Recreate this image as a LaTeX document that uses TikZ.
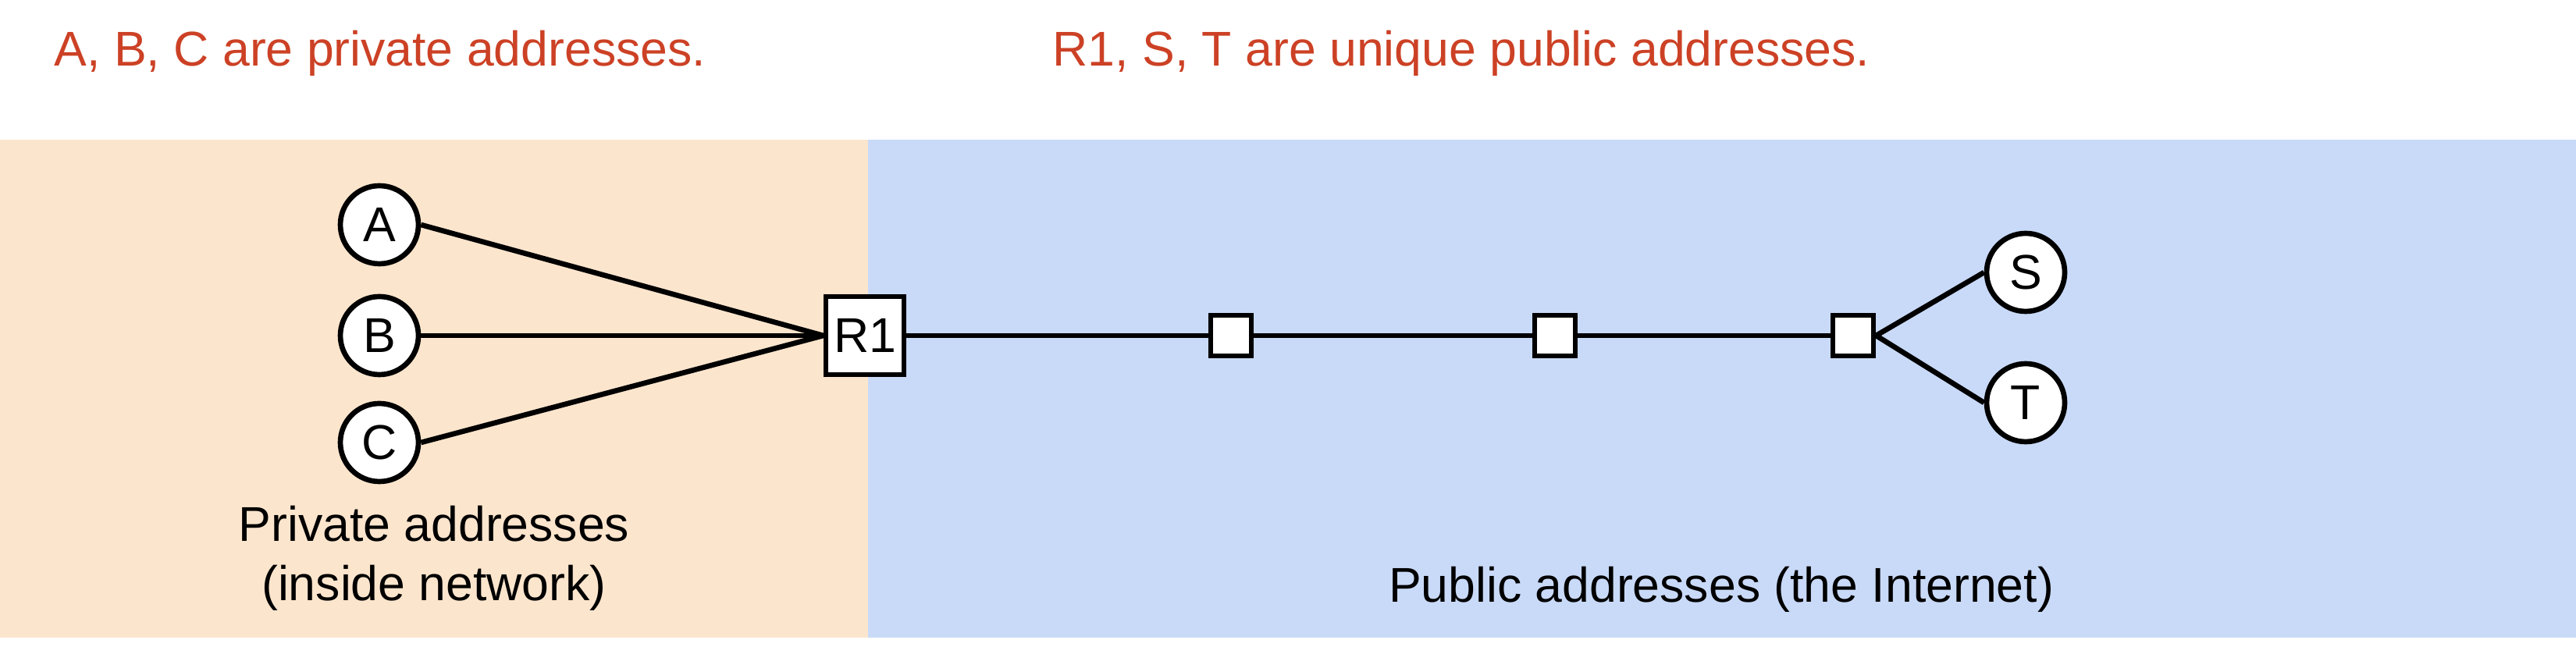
\documentclass[tikz,border=0pt]{standalone}
\usepackage{fontspec}
\setmainfont{Liberation Sans}
\definecolor{privfill}{HTML}{FCE5CD}
\definecolor{pubfill}{HTML}{C9DAF8}
\definecolor{notered}{HTML}{CC4125}
\tikzset{
  host/.style={circle,draw,fill=white,line width=1.9pt,minimum size=1cm,inner sep=0pt},
  router/.style={rectangle,draw,fill=white,line width=1.9pt,minimum size=1cm,inner sep=0pt},
  hop/.style={rectangle,draw,fill=white,line width=1.9pt,minimum size=0.52cm,inner sep=0pt},
  link/.style={line width=1.9pt},
  note/.style={text=notered,anchor=base west,inner sep=0pt},
  zone/.style={anchor=base,inner sep=0pt}
}
\begin{document}
\begin{tikzpicture}[font=\fontsize{17.8}{21}\selectfont]
\useasboundingbox (0,0) rectangle (33,8.29);
% the two address zones
\fill[privfill] (0,0.12) rectangle (11.12,6.50);
\fill[pubfill] (11.12,0.12) rectangle (33,6.50);
% headings
\node[note] (privnote) at (0.69,7.44) {A, B, C are private addresses.};
\node[note] (pubnote) at (13.48,7.44) {R1, S, T are unique public addresses.};
% hosts and routers
\node[host] (A) at (4.86,5.41) {A};
\node[host] (B) at (4.86,3.99) {B};
\node[host] (C) at (4.86,2.62) {C};
\node[router] (R1) at (11.08,3.99) {R1};
\node[hop] (h1) at (15.77,3.99) {};
\node[hop] (h2) at (19.92,3.99) {};
\node[hop] (h3) at (23.74,3.99) {};
\node[host] (S) at (25.95,4.80) {S};
\node[host] (T) at (25.95,3.13) {T};
% links
\foreach \n in {A,B,C}
  \draw[link] (\n.east) -- (R1.west);
\draw[link] (R1) -- (h1) -- (h2) -- (h3);
\draw[link] (h3.east) -- (S.west);
\draw[link] (h3.east) -- (T.west);
% zone labels
\node[zone] (privlbl) at (5.56,1.35) {Private addresses};
\node[zone] (privlbl2) at (5.56,0.59) {(inside network)};
\node[zone] (publbl) at (22.05,0.57) {Public addresses (the Internet)};
\end{tikzpicture}
\end{document}
